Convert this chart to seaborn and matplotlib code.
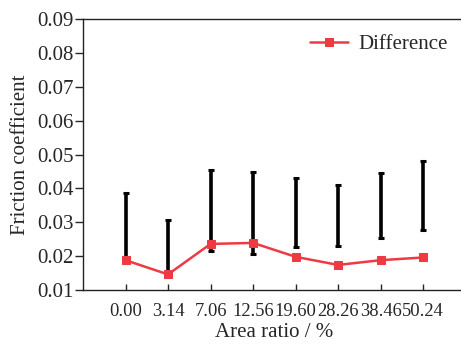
import numpy as np
import matplotlib
matplotlib.use("Agg")
import matplotlib.pyplot as plt
import seaborn as sns

categories = ["0.00", "3.14", "7.06", "12.56", "19.60", "28.26", "38.46", "50.24"]
difference = [0.0188, 0.0146, 0.0236, 0.0239, 0.0198, 0.0174, 0.0188, 0.0196]
range_low = [0.0192, 0.0154, 0.0216, 0.0205, 0.0226, 0.0231, 0.0253, 0.0278]
range_high = [0.0385, 0.0307, 0.0454, 0.0449, 0.0430, 0.0411, 0.0446, 0.0480]
y_ticks = [0.01, 0.02, 0.03, 0.04, 0.05, 0.06, 0.07, 0.08, 0.09]

sns.set_style("white")
plt.rcParams['font.family'] = ['Liberation Serif', 'DejaVu Serif']

fig = plt.figure(figsize=(4.61, 3.44), dpi=100)
ax = fig.add_axes([83/461, 54/344, 1 - 83/461 + 0.01, 271/344])

pos = np.arange(1, len(categories) + 1)
low = np.array(range_low)
high = np.array(range_high)
center = (low + high) / 2
half = (high - low) / 2

ax.errorbar(pos, center, yerr=half, fmt='none', ecolor='black',
            elinewidth=2.6, capsize=2.4, capthick=2.2, zorder=2)

sns.lineplot(x=pos, y=difference, ax=ax, color='#ee3a42', linewidth=1.8,
             marker='s', markersize=6, markeredgecolor='#ee3a42',
             label='Difference', zorder=3)

ax.set_xlim(0, 9)
ax.set_ylim(0.01, 0.09)
ax.set_xticks(pos)
ax.set_xticklabels(categories)
ax.set_yticks(y_ticks)
ax.set_yticklabels([f"{v:.2f}" for v in y_ticks])

ax.tick_params(axis='y', direction='out', length=6, width=1, labelsize=15, pad=1, left=True)
ax.tick_params(axis='x', direction='in', length=4, width=1, labelsize=13.3, pad=9, bottom=True)

for s in ['left', 'bottom', 'top']:
    ax.spines[s].set_visible(True)
    ax.spines[s].set_color('#222222')
    ax.spines[s].set_linewidth(1.0)
ax.spines['right'].set_visible(False)

ax.set_xlabel("Area ratio / %", fontsize=15, labelpad=2.5)
ax.set_ylabel("Friction coefficient", fontsize=15, labelpad=5)

leg = ax.legend(loc='upper right', frameon=False, fontsize=15,
                handlelength=1.8, handletextpad=0.5,
                borderaxespad=0.2, bbox_to_anchor=(0.985, 0.99))

fig.savefig("out.png", dpi=100)
